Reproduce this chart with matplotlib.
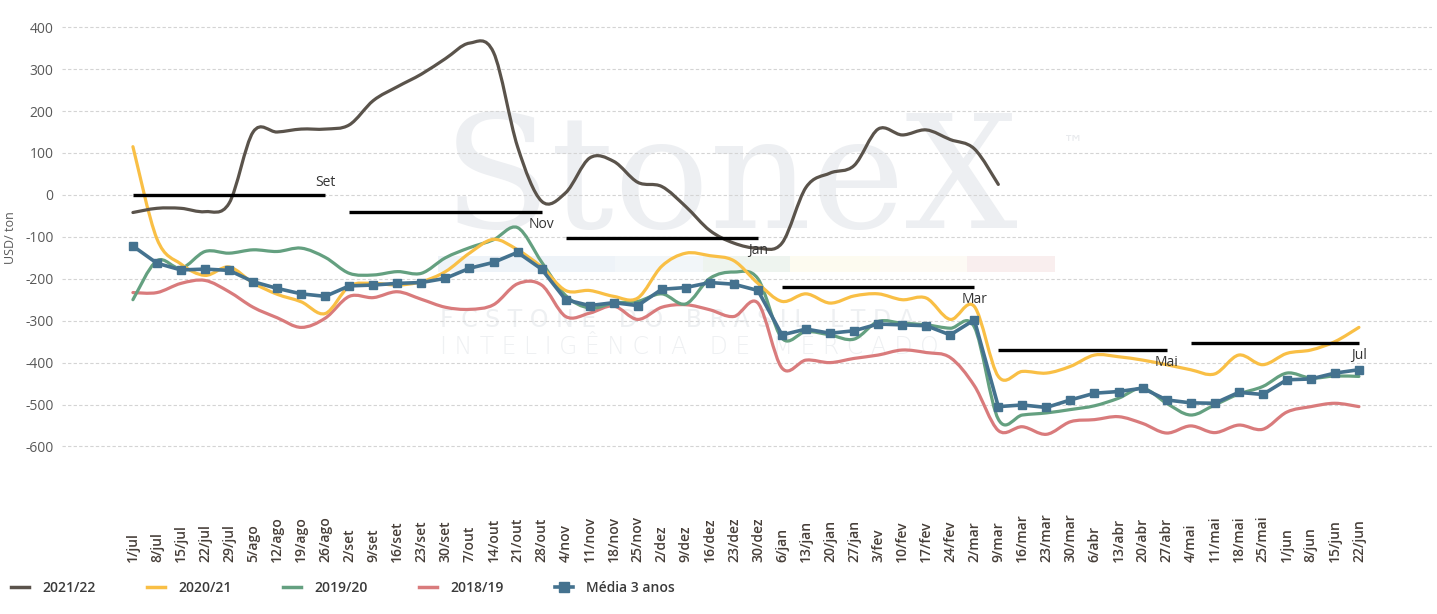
import numpy as np
import matplotlib.pyplot as plt
from matplotlib.path import Path
from matplotlib.patches import PathPatch, Rectangle
from matplotlib.lines import Line2D

plt.rcParams['font.family'] = ['Open Sans', 'DejaVu Sans']
plt.rcParams['axes.unicode_minus'] = False

# semanas (eixo x)
weeks = ['1/jul', '8/jul', '15/jul', '22/jul', '29/jul', '5/ago', '12/ago', '19/ago', '26/ago',
         '2/set', '9/set', '16/set', '23/set', '30/set', '7/out', '14/out', '21/out', '28/out',
         '4/nov', '11/nov', '18/nov', '25/nov', '2/dez', '9/dez', '16/dez', '23/dez', '30/dez',
         '6/jan', '13/jan', '20/jan', '27/jan', '3/fev', '10/fev', '17/fev', '24/fev', '2/mar',
         '9/mar', '16/mar', '23/mar', '30/mar', '6/abr', '13/abr', '20/abr', '27/abr',
         '4/mai', '11/mai', '18/mai', '25/mai', '1/jun', '8/jun', '15/jun', '22/jun']

# USD/ton
s2122 = [-42, -32, -32, -40, -20, 150, 150, 157, 157, 167, 225, 258, 288, 325, 362, 340, 115, -15,
         5, 88, 80, 30, 20, -28, -85, -115, -127, -115, 18, 52, 70, 157, 143, 155, 132, 110, 25]
s2021 = [115, -105, -165, -192, -172, -210, -237, -255, -283, -218, -211, -215, -207, -183, -139,
         -106, -131, -172, -228, -228, -242, -246, -170, -139, -145, -157, -211, -254, -236, -258,
         -241, -236, -250, -246, -297, -266, -433, -421, -425, -409, -382, -386, -394, -405, -417,
         -427, -382, -405, -378, -370, -350, -316]
s1920 = [-250, -157, -175, -135, -139, -131, -135, -127, -149, -187, -191, -183, -187, -150, -126,
         -107, -78, -160, -240, -270, -258, -254, -236, -260, -199, -184, -200, -342, -326, -334,
         -344, -302, -306, -310, -318, -315, -535, -525, -520, -512, -503, -485, -461, -497, -525,
         -501, -475, -457, -425, -437, -432, -433]
s1819 = [-233, -233, -211, -204, -231, -268, -293, -316, -294, -242, -245, -231, -249, -268, -273,
         -262, -212, -215, -290, -282, -265, -297, -268, -262, -274, -290, -258, -413, -394, -400,
         -390, -382, -370, -376, -388, -455, -562, -553, -571, -541, -536, -529, -545, -568, -551,
         -567, -549, -559, -518, -505, -497, -505]
media = [-122, -163, -179, -177, -180, -207, -223, -236, -242, -217, -215, -211, -209, -199, -175,
         -161, -137, -177, -250, -264, -257, -264, -225, -221, -209, -213, -228, -334, -320, -330,
         -324, -308, -310, -312, -334, -298, -505, -501, -507, -489, -473, -469, -461, -489, -496,
         -497, -471, -476, -441, -439, -425, -417]

# curva futura (linhas pretas)
fwd_labels = ['Set', 'Nov', 'Jan', 'Mar', 'Mai', 'Jul']
fwd_start = [0, 9, 18, 27, 36, 44]
fwd_end = [8, 17, 26, 35, 43, 51]
fwd_values = [0, -40, -103, -220, -370, -354]

c2122 = '#5a534b'
c2021 = '#f9bf45'
c1920 = '#64a080'
c1819 = '#d97b7c'
cmed = '#44728f'

W, H = 1437, 614


def fx(px):
    return px / W


def fy(py):
    return 1 - py / H


def smooth_path(xs, ys):
    # curva suave tipo Excel (Catmull-Rom -> Bezier)
    pts = np.column_stack([xs, ys]).astype(float)
    n = len(pts)
    verts = [pts[0]]
    codes = [Path.MOVETO]
    for i in range(n - 1):
        p0 = pts[max(i - 1, 0)]
        p1 = pts[i]
        p2 = pts[i + 1]
        p3 = pts[min(i + 2, n - 1)]
        verts += [p1 + (p2 - p0) / 6, p2 - (p3 - p1) / 6, p2]
        codes += [Path.CURVE4] * 3
    return Path(verts, codes)


fig = plt.figure(figsize=(W / 100, H / 100), dpi=100)
ax = fig.add_axes([fx(62), fy(480), fx(1432) - fx(62), fy(10) - fy(480)])
ax.set_xlim(-2.95, 54.04)
ax.set_ylim(-680, 441)
for s in ax.spines.values():
    s.set_visible(False)

ax.set_yticks(range(-600, 401, 100))
ax.tick_params(axis='y', length=0, pad=6, labelsize=10, labelcolor='#595959')
ax.tick_params(axis='x', length=0, labelbottom=False)
ax.set_xticks([])
ax.grid(axis='y', color='#d4d4d4', linestyle=(0, (3, 2)), linewidth=0.8, zorder=0)
ax.set_axisbelow(True)

# marca d'agua
ax.text(fx(443), fy(228), 'StoneX', transform=fig.transFigure, family='DejaVu Serif',
        fontsize=114, color='#edeff2', ha='left', va='baseline', zorder=0.5)
ax.text(fx(1063), fy(143), '™', transform=fig.transFigure, family='DejaVu Sans',
        fontsize=15, color='#e8eaed', ha='left', va='center', zorder=0.5)
ax.text(fx(440), fy(320), 'F C S T O N E   D O   B R A S I L   L T D A', transform=fig.transFigure,
        family='DejaVu Sans', fontsize=17, color='#eef0f2', ha='left', va='center', zorder=0.5)
ax.text(fx(440), fy(347), 'I N T E L I G Ê N C I A   D E   M E R C A D O', transform=fig.transFigure,
        family='DejaVu Sans', fontweight='light', fontsize=17, color='#eef0f2', ha='left',
        va='center', zorder=0.5)
band_x = [438, 615, 703, 790, 880, 967, 1055]
band_c = ['#eef3f8', '#f2f6f9', '#eef4ef', '#fdfbf0', '#fdfaf4', '#f9eeee']
for i in range(len(band_c)):
    ax.add_patch(Rectangle((fx(band_x[i]), fy(272)), fx(band_x[i + 1]) - fx(band_x[i]),
                           fy(256) - fy(272), transform=fig.transFigure, facecolor=band_c[i],
                           edgecolor='none', zorder=0.5))

x = np.arange(len(weeks))
for vals, col in [(s1819, c1819), (s1920, c1920), (s2021, c2021), (s2122, c2122)]:
    ax.add_patch(PathPatch(smooth_path(x[:len(vals)], vals), facecolor='none', edgecolor=col,
                           lw=2.3, capstyle='round', joinstyle='round', zorder=2))
ax.plot(x, media, color=cmed, lw=2.6, marker='s', markersize=6, zorder=3)

for lab, a, b, v in zip(fwd_labels, fwd_start, fwd_end, fwd_values):
    ax.plot([a, b], [v, v], color='black', lw=2.4, solid_capstyle='butt', zorder=4)
    off = 9 if lab == 'Set' else -9
    ax.annotate(lab, (b, v), xytext=(0, off), textcoords='offset points', ha='center',
                va='center', fontsize=10, color='#333333', zorder=5)

for i, w in enumerate(weeks):
    ax.text(i, (480 - 562) / 470, w, transform=ax.get_xaxis_transform(), rotation=90,
            ha='center', va='bottom', fontsize=10, fontweight='semibold', color='#463e38')

fig.text(fx(11), fy(238), 'USD/ ton', rotation=90, ha='center', va='center', fontsize=9,
         color='#595959')

handles = [Line2D([], [], color=c2122, lw=2.5),
           Line2D([], [], color=c2021, lw=2.5),
           Line2D([], [], color=c1920, lw=2.5),
           Line2D([], [], color=c1819, lw=2.5),
           Line2D([], [], color=cmed, lw=2.6, marker='s', markersize=7)]
fig.legend(handles, ['2021/22', '2020/21', '2019/20', '2018/19', 'Média 3 anos'],
           loc='center left', bbox_to_anchor=(fx(11), fy(588)), ncol=5, frameon=False,
           borderpad=0, borderaxespad=0, handlelength=1.3, handletextpad=0.95,
           columnspacing=3.7, prop={'size': 10, 'weight': 'semibold'}, labelcolor='#3a3a3a')

fig.savefig('out.png', dpi=100)
